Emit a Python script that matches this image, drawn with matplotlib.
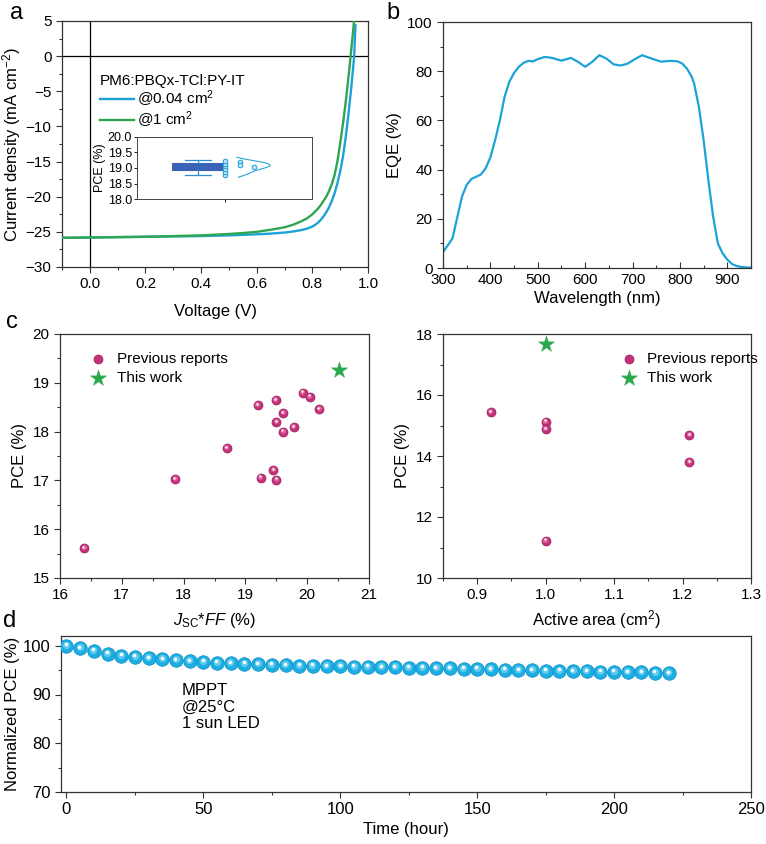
#!/usr/bin/env python3
"""Four-panel OPV summary figure: J-V, EQE, PCE benchmarks and MPPT stability."""

import matplotlib

matplotlib.use("Agg")
import matplotlib.pyplot as plt  # noqa: E402
import matplotlib.transforms as mtransforms  # noqa: E402
import numpy as np  # noqa: E402
from matplotlib.ticker import AutoMinorLocator, MultipleLocator  # noqa: E402

plt.rcParams["font.family"] = ["Liberation Sans", "DejaVu Sans"]
plt.rcParams["mathtext.fontset"] = "custom"
plt.rcParams["mathtext.rm"] = "Liberation Sans"
plt.rcParams["mathtext.it"] = "Liberation Sans:italic"

# ---- panel a: J-V curves ----
jv_voltage = [-0.1, 0.0, 0.1, 0.2, 0.3, 0.4, 0.5, 0.55, 0.6, 0.65, 0.7, 0.73, 0.76,
              0.78, 0.8, 0.81, 0.82, 0.83, 0.84, 0.85, 0.86, 0.87, 0.88, 0.89, 0.9,
              0.91, 0.92, 0.93, 0.94, 0.95, 0.955]
jv_small = [-25.85, -25.8, -25.75, -25.7, -25.65, -25.6, -25.5, -25.43, -25.35, -25.25,
            -25.1, -24.95, -24.75, -24.55, -24.25, -24.0, -23.7, -23.3, -22.8, -22.2,
            -21.5, -20.6, -19.5, -18.1, -16.4, -14.3, -11.5, -8.2, -4.4, -0.2, 4.4]
jv_large = [-25.85, -25.8, -25.75, -25.7, -25.6, -25.5, -25.3, -25.17, -25.0, -24.7,
            -24.35, -24.0, -23.5, -23.1, -22.5, -22.1, -21.7, -21.2, -20.6, -20.0,
            -19.2, -18.2, -16.9, -15.0, -12.4, -9.6, -6.5, -2.9, 1.0, 5.0, 7.0]
jv_labels = ["@0.04 cm$^2$", "@1 cm$^2$"]
blend_name = "PM6:PBQx-TCl:PY-IT"

# inset: PCE distribution
inset_box = {"whislo": 18.76, "q1": 18.95, "med": 19.05, "q3": 19.16, "whishi": 19.25}
inset_dot_x = [0.5, 0.5, 0.5, 0.5, 0.5, 0.5, 0.59, 0.59, 0.67]
inset_dot_y = [18.78, 18.87, 18.96, 19.05, 19.14, 19.23, 19.18, 19.09, 19.03]

# ---- panel b: EQE ----
eqe_wl = [300, 320, 340, 350, 360, 380, 390, 400, 410, 420, 430, 440, 450, 460, 470,
          480, 490, 500, 515, 530, 550, 570, 585, 600, 615, 630, 645, 660, 675, 690,
          705, 720, 735, 750, 760, 780, 795, 805, 815, 825, 830, 840, 850, 860, 870,
          880, 890, 900, 910, 920, 930, 950]
eqe_val = [6.4, 12.0, 29.0, 33.8, 36.2, 38.0, 40.5, 45.0, 52.0, 60.0, 69.6, 75.7, 79.3,
           81.8, 83.4, 84.2, 84.0, 84.9, 85.8, 85.4, 84.3, 85.4, 83.8, 81.8, 83.8, 86.5,
           85.1, 82.8, 82.3, 83.1, 84.9, 86.5, 85.5, 84.5, 83.9, 84.2, 84.0, 83.1, 81.0,
           77.7, 75.0, 65.5, 52.0, 35.8, 21.0, 10.0, 6.0, 3.4, 1.6, 0.8, 0.4, 0.1]

# ---- panel c: literature comparison ----
prev_jscff = [16.39, 17.86, 18.70, 19.20, 19.25, 19.49, 19.50, 19.45, 19.50, 19.61,
              19.61, 19.78, 19.93, 20.04, 20.19]
prev_pce = [15.61, 17.02, 17.66, 18.54, 17.05, 18.64, 18.19, 17.21, 17.01, 18.38,
            18.00, 18.09, 18.80, 18.71, 18.46]
this_jscff = [20.51]
this_pce = [19.27]

prev_area = [0.92, 1.00, 1.00, 1.00, 1.21, 1.21]
prev_area_pce = [15.44, 15.13, 14.88, 11.22, 14.68, 13.79]
this_area = [1.00]
this_area_pce = [17.66]

# ---- panel d: MPPT stability ----
mppt_time = list(range(0, 225, 5))
mppt_pce = [100.0, 99.5, 99.0, 98.4, 98.0, 97.7, 97.4, 97.2, 97.0, 96.8, 96.7, 96.5,
            96.4, 96.3, 96.2, 96.1, 96.0, 95.9, 95.9, 95.8, 95.8, 95.7, 95.7, 95.6,
            95.6, 95.5, 95.5, 95.4, 95.4, 95.3, 95.3, 95.2, 95.1, 95.0, 95.0, 94.9,
            94.9, 94.8, 94.8, 94.7, 94.7, 94.6, 94.6, 94.5, 94.4]

BLUE = "#1ba3d8"
GREEN = "#2fa552"
MAGENTA = "#c4307a"
STAR = "#2aa84c"
CYAN = "#1aaee2"
W, H = 766, 844


def px_axes(fig, left, top, right, bottom):
    return fig.add_axes([left / W, 1 - bottom / H, (right - left) / W, (bottom - top) / H])


def style(ax, xminor, yminor, xdir="out", ydir="out"):
    for sp in ax.spines.values():
        sp.set_linewidth(0.9)
        sp.set_color("#333333")
    ax.xaxis.set_minor_locator(AutoMinorLocator(xminor))
    ax.yaxis.set_minor_locator(AutoMinorLocator(yminor))
    ax.tick_params(axis="both", which="both", labelsize=11, color="#333333", width=0.8,
                   top=False, right=False)
    ax.tick_params(axis="x", which="both", direction=xdir)
    ax.tick_params(axis="y", which="both", direction=ydir)
    ax.tick_params(which="major", length=4)
    ax.tick_params(which="minor", length=2.5)


def spheres(fig, ax, x, y, s, base, edge, mid, zorder=3):
    ax.scatter(x, y, s=s, c=base, edgecolors=edge, linewidths=0.5, zorder=zorder)
    up = mtransforms.offset_copy(ax.transData, fig=fig, x=-0.3, y=0.7, units="points")
    spot = mtransforms.offset_copy(ax.transData, fig=fig, x=-0.5, y=1.1, units="points")
    ax.scatter(x, y, s=s * 0.3, c=mid, linewidths=0, alpha=0.55, zorder=zorder + 0.1,
               transform=up)
    ax.scatter(x, y, s=s * 0.07, c="white", linewidths=0, alpha=0.95, zorder=zorder + 0.2,
               transform=spot)


fig = plt.figure(figsize=(W / 100, H / 100), dpi=100)

# panel a
ax = px_axes(fig, 62, 21, 368, 267)
ax.axhline(0, color="black", lw=0.9, zorder=1)
ax.axvline(0, color="black", lw=0.9, zorder=1)
ax.plot(jv_voltage, jv_small, color=BLUE, lw=1.7, label=jv_labels[0], zorder=2)
ax.plot(jv_voltage, jv_large, color=GREEN, lw=1.7, label=jv_labels[1], zorder=3)
ax.set_xlim(-0.1, 1.0)
ax.set_ylim(-30, 5)
ax.xaxis.set_major_locator(MultipleLocator(0.2))
ax.xaxis.set_major_formatter(plt.FormatStrFormatter("%.1f"))
ax.yaxis.set_major_locator(MultipleLocator(5))
style(ax, 2, 2)
ax.set_xlabel("Voltage (V)", fontsize=12, labelpad=9)
ax.set_ylabel("Current density (mA cm$^{-2}$)", fontsize=12, labelpad=2)
leg = ax.legend(loc="upper left", bbox_to_anchor=(0.09, 0.83), frameon=False,
                title=blend_name, title_fontsize=11, fontsize=11, alignment="left",
                handlelength=2.2, handletextpad=0.2, labelspacing=0.05, borderpad=0.2)

# inset
ins = px_axes(fig, 137, 137, 312, 199)
ins.bxp([dict(inset_box, fliers=[])], positions=[0.35], widths=0.3, patch_artist=True,
        boxprops=dict(facecolor="#3a62b5", edgecolor="#3a62b5", lw=0.8),
        medianprops=dict(color="#3a62b5", lw=0.8),
        whiskerprops=dict(color="#2c8fd0", lw=0.9),
        capprops=dict(color="#2c8fd0", lw=0.9), capwidths=0.15)
ins.scatter(inset_dot_x, inset_dot_y, s=11, facecolors="#bfe6f7", edgecolors="#1a9fd6",
            linewidths=0.7, zorder=3)
vals = np.array(inset_dot_y)
grid = np.linspace(vals.min() - 0.08, vals.max() + 0.12, 120)
bw = 0.09
dens = np.exp(-0.5 * ((grid[:, None] - vals[None, :]) / bw) ** 2).sum(axis=1)
ins.plot(0.54 + 0.22 * dens / dens.max(), grid, color="#2ba6d9", lw=0.8)
ins.set_xlim(0, 1)
ins.set_ylim(18, 20)
ins.set_xticks([0.5])
ins.set_xticklabels([])
ins.yaxis.set_major_locator(MultipleLocator(0.5))
ins.yaxis.set_major_formatter(plt.FormatStrFormatter("%.1f"))
for sp in ins.spines.values():
    sp.set_linewidth(0.7)
    sp.set_color("#444444")
ins.tick_params(labelsize=9, length=2.5, width=0.6, direction="out", pad=1)
ins.set_ylabel("PCE (%)", fontsize=9, labelpad=1)

# panel b
ax = px_axes(fig, 443, 22, 751, 268)
ax.plot(eqe_wl, eqe_val, color=BLUE, lw=1.6)
ax.set_xlim(300, 950)
ax.set_ylim(0, 100)
ax.xaxis.set_major_locator(MultipleLocator(100))
ax.yaxis.set_major_locator(MultipleLocator(20))
style(ax, 2, 2, xdir="in")
ax.set_xlabel("Wavelength (nm)", fontsize=12, labelpad=3)
ax.set_ylabel("EQE (%)", fontsize=12, labelpad=4)

# panel c left
ax = px_axes(fig, 60, 334, 369, 578)
spheres(fig, ax, prev_jscff, prev_pce, 42, MAGENTA, "#9a1f5c", "#f090bf")
ax.scatter([], [], s=42, c=MAGENTA, edgecolors="#9a1f5c", linewidths=0.5,
           label="Previous reports")
ax.scatter(this_jscff, this_pce, s=150, marker="*", c=STAR, edgecolors=STAR,
           linewidths=0.3, zorder=4, label="This work")
ax.set_xlim(16, 21)
ax.set_ylim(15, 20)
ax.xaxis.set_major_locator(MultipleLocator(1))
ax.yaxis.set_major_locator(MultipleLocator(1))
style(ax, 2, 2)
ax.set_xlabel(r"$J_{\mathrm{SC}}$*$FF$ (%)", fontsize=12, labelpad=6)
ax.set_ylabel("PCE (%)", fontsize=12, labelpad=4)
ax.legend(loc="upper left", bbox_to_anchor=(0.04, 0.97), frameon=False, fontsize=11,
          handletextpad=0.2, labelspacing=0.3, borderpad=0.2)

# panel c right
ax = px_axes(fig, 443, 334, 751, 578)
spheres(fig, ax, prev_area, prev_area_pce, 42, MAGENTA, "#9a1f5c", "#f090bf")
ax.scatter([], [], s=42, c=MAGENTA, edgecolors="#9a1f5c", linewidths=0.5,
           label="Previous reports")
ax.scatter(this_area, this_area_pce, s=150, marker="*", c=STAR, edgecolors=STAR,
           linewidths=0.3, zorder=4, label="This work")
ax.set_xlim(0.85, 1.3)
ax.set_ylim(10, 18)
ax.xaxis.set_major_locator(MultipleLocator(0.1))
ax.xaxis.set_major_formatter(plt.FormatStrFormatter("%.1f"))
ax.yaxis.set_major_locator(MultipleLocator(2))
style(ax, 2, 2)
ax.set_xlabel("Active area (cm$^2$)", fontsize=12, labelpad=4)
ax.set_ylabel("PCE (%)", fontsize=12, labelpad=4)
ax.legend(loc="upper left", bbox_to_anchor=(0.52, 0.97), frameon=False, fontsize=11,
          handletextpad=0.2, labelspacing=0.3, borderpad=0.2)

# panel d
ax = px_axes(fig, 61, 636, 751, 792)
spheres(fig, ax, mppt_time, mppt_pce, 95, CYAN, "#0b8cc4", "#9ee0f7")
ax.set_xlim(-2, 250)
ax.set_ylim(70, 102)
ax.xaxis.set_major_locator(MultipleLocator(50))
ax.yaxis.set_major_locator(MultipleLocator(10))
style(ax, 2, 2)
ax.tick_params(labelsize=12)
ax.set_xlabel("Time (hour)", fontsize=12, labelpad=3)
ax.set_ylabel("Normalized PCE (%)", fontsize=12, labelpad=2)
ax.text(0.175, 0.7, "MPPT\n@25°C\n1 sun LED", transform=ax.transAxes, fontsize=12,
        va="top", ha="left", linespacing=1.15)

for lbl, x, y in [("a", 17, 13), ("b", 393, 13), ("c", 12, 322), ("d", 10, 621)]:
    fig.text(x / W, 1 - y / H, lbl, fontsize=17, ha="center", va="center")

fig.savefig("out.png", dpi=100)
plt.close(fig)
